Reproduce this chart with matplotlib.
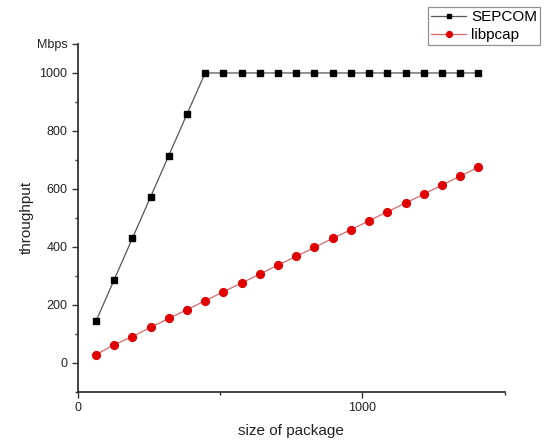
import matplotlib
matplotlib.use("Agg")
import matplotlib.pyplot as plt
from matplotlib.ticker import MultipleLocator

plt.rcParams['font.family'] = ['Liberation Sans', 'DejaVu Sans']

# package sizes (bytes)
package_size = [64 * k for k in range(1, 23)]

# throughput (Mbps)
sepcom = [143, 286, 429, 572, 715, 858,
          1000, 1000, 1000, 1000, 1000, 1000, 1000, 1000,
          1000, 1000, 1000, 1000, 1000, 1000, 1000, 1000]
libpcap = [28, 62, 90, 122, 153, 183, 214, 245, 275, 306, 337,
           367, 398, 429, 459, 490, 521, 551, 582, 613, 644, 675]

y_ticks = [0, 200, 400, 600, 800, 1000, 1100]
y_tick_labels = ['0', '200', '400', '600', '800', '1000', 'Mbps']
x_ticks = [0, 1000]

fig = plt.figure(figsize=(5.46, 4.43), dpi=100)
ax = fig.add_axes([0.1423, 0.1158, 0.7819, 0.7849])

ax.plot(package_size, sepcom, color='#555555', linewidth=0.9,
        marker='s', markersize=4.8, markerfacecolor='black',
        markeredgecolor='black', label='SEPCOM')
ax.plot(package_size, libpcap, color='#d46a6a', linewidth=0.9,
        marker='o', markersize=5.6, markerfacecolor='#e00000',
        markeredgecolor='#e00000', label='libpcap')

ax.set_xlim(0, 1500)
ax.set_ylim(-100, 1100)

ax.spines['top'].set_visible(False)
ax.spines['right'].set_visible(False)
for s in ('left', 'bottom'):
    ax.spines[s].set_linewidth(1.3)
    ax.spines[s].set_color('#333333')

ax.set_xticks(x_ticks)
ax.xaxis.set_minor_locator(MultipleLocator(500))
ax.set_yticks(y_ticks)
ax.set_yticklabels(y_tick_labels)
ax.yaxis.set_minor_locator(MultipleLocator(100))
ax.tick_params(which='major', direction='out', length=4, width=1,
               labelsize=9, color='#333333', labelcolor='#222222')
ax.tick_params(which='minor', direction='out', length=2.5, width=1,
               color='#333333')

ax.set_xlabel('size of package', fontsize=11, color='#222222', labelpad=7)
ax.set_ylabel('throughput', fontsize=11, color='#222222', labelpad=2)

leg = fig.legend(loc='upper right', bbox_to_anchor=(0.989, 0.9835),
                 fontsize=11, frameon=True, fancybox=False,
                 handlelength=2.3, borderpad=0.2, labelspacing=0.25,
                 handletextpad=0.3, borderaxespad=0, markerscale=0.75)
leg.get_frame().set_edgecolor('#777777')
leg.get_frame().set_linewidth(0.9)

fig.savefig('out.png', dpi=100)
